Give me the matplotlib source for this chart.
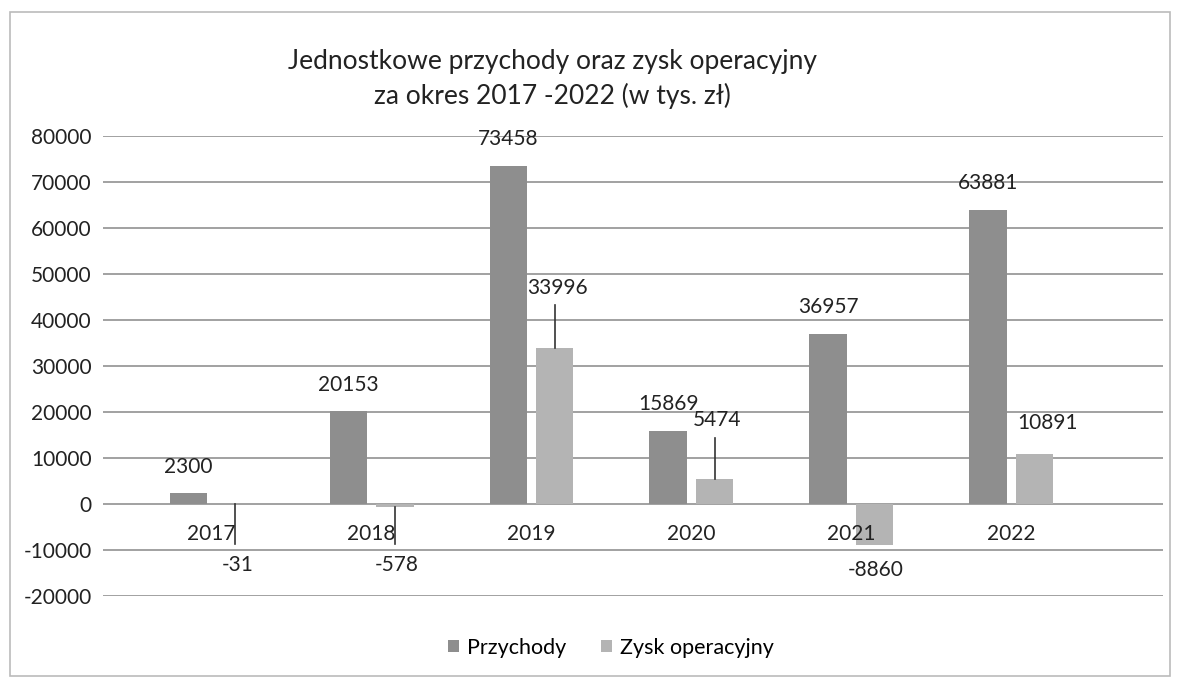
import numpy as np
import matplotlib
matplotlib.use("Agg")
from matplotlib import pyplot as plt
from matplotlib.patches import Rectangle

years = ["2017", "2018", "2019", "2020", "2021", "2022"]
przychody = [2300, 20153, 73458, 15869, 36957, 63881]
zysk = [-31, -578, 33996, 5474, -8860, 10891]
yticks = [-20000, -10000, 0, 10000, 20000, 30000, 40000, 50000, 60000, 70000, 80000]

plt.rcParams['font.family'] = ['Lato', 'DejaVu Sans']
dark = "#8e8e8e"
light = "#b4b4b4"
txt = "#222222"

fig = plt.figure(figsize=(11.81, 6.77), dpi=100)
ax = fig.add_axes([103/1181, 1-596/677, (1163-103)/1181, (596-136)/677])

x = np.arange(len(years))
w = 0.235
off = 0.145
ax.bar(x - off, przychody, w, color=dark, label="Przychody", zorder=3)
ax.bar(x + off, zysk, w, color=light, label="Zysk operacyjny", zorder=3)

ax.set_ylim(-20000, 80000)
ax.set_xlim(-0.68, 5.95)
ax.set_yticks(yticks)
ax.set_yticklabels([str(v) for v in yticks], fontsize=15, color=txt)
ax.tick_params(axis="y", length=0, pad=8)
ax.set_xticks([])
ax.grid(axis="y", color="#9a9a9a", linewidth=1.3, zorder=0)
for s in ax.spines.values():
    s.set_visible(False)

fs = 15
# category labels sit below zero line
for i, yr in enumerate(years):
    ax.text(i, -6500, yr, ha="center", va="center", fontsize=fs, color=txt, zorder=5)

# przychody labels
for i, v in enumerate(przychody):
    ax.text(i - off, v + 5800, str(v), ha="center", va="center", fontsize=fs, color=txt, zorder=5)

# zysk labels (with leader lines where Excel moved them)
zlab = {0: (0.165, -13300, True), 1: (0.16, -13300, True), 2: (0.165, 47000, True),
        3: (0.16, 18200, True), 4: (0.15, -14300, False), 5: (0.23, 17700, False)}
for i, v in enumerate(zysk):
    dx, ly, lead = zlab[i]
    ax.text(i + dx, ly, str(v), ha="center", va="center", fontsize=fs, color=txt, zorder=5)
    if lead:
        if ly < 0:
            ax.plot([i + off, i + off], [min(v, 0), -8800], color="#333333", lw=1.2, zorder=4)
        else:
            ax.plot([i + off, i + off], [max(v, 0), ly - 3800], color="#333333", lw=1.2, zorder=4)

fig.text(552/1181, 1-62/677, "Jednostkowe przychody oraz zysk operacyjny", ha="center", va="center",
         fontsize=19, color=txt)
fig.text(552/1181, 1-96/677, "za okres 2017 -2022 (w tys. zł)", ha="center", va="center",
         fontsize=19, color=txt)

fig.legend(loc="center", bbox_to_anchor=(611/1181, 1-648/677), ncol=2, frameon=False,
           fontsize=15.5, handlelength=0.5, handleheight=0.5, handletextpad=0.4, columnspacing=1.6)

fig.patches.append(Rectangle((10/1181, 0.002), (1170-10)/1181, 1-12/677-0.002, transform=fig.transFigure,
                             fill=False, edgecolor="#bbbbbb", linewidth=1.2))

fig.savefig("out.png", dpi=100, facecolor="white")
